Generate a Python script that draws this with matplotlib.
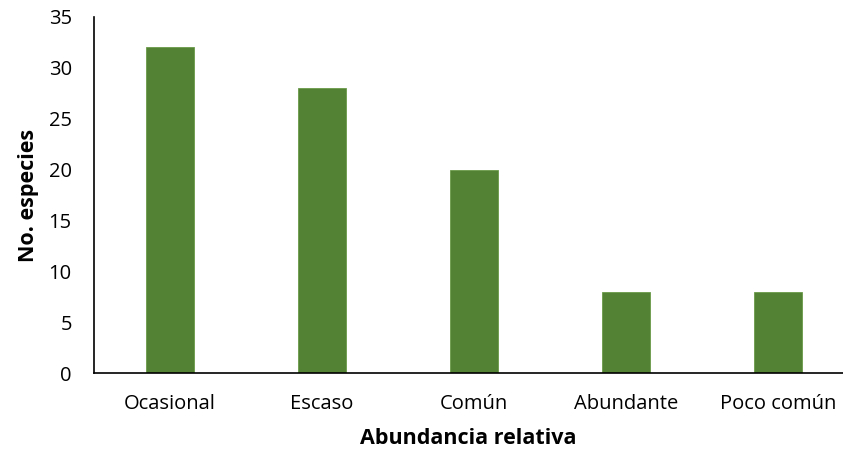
import matplotlib
matplotlib.use("Agg")
import matplotlib.pyplot as plt
import numpy as np

categorias = ["Ocasional", "Escaso", "Común", "Abundante", "Poco común"]
especies = [32, 28, 20, 8, 8]

plt.rcParams['font.family'] = ['Open Sans', 'DejaVu Sans']

fig = plt.figure(figsize=(8.43, 4.55), dpi=100)
ax = fig.add_axes([0.1115, 0.180, 1 - 0.1115, 0.783])

x = np.arange(len(categorias))
ax.bar(x, especies, width=0.31, color="#548235", edgecolor="#6a9a4a", linewidth=0.6)

ax.set_xlim(-0.5, 4.428)
ax.set_ylim(0, 35)
ax.set_yticks(range(0, 36, 5))
ax.set_xticks(x)
ax.set_xticklabels(categorias)
ax.tick_params(axis="both", length=0, labelsize=14.5, colors="black")
ax.tick_params(axis="x", pad=15)
ax.tick_params(axis="y", pad=16)

for side in ("top", "right"):
    ax.spines[side].set_visible(False)
for side in ("left", "bottom"):
    ax.spines[side].set_color("black")
    ax.spines[side].set_linewidth(1.2)

ax.set_xlabel("Abundancia relativa", fontsize=15.5, fontweight="bold", labelpad=10)
ax.set_ylabel("No. especies", fontsize=15.5, fontweight="bold", labelpad=7)

fig.savefig("out.png", dpi=100)
